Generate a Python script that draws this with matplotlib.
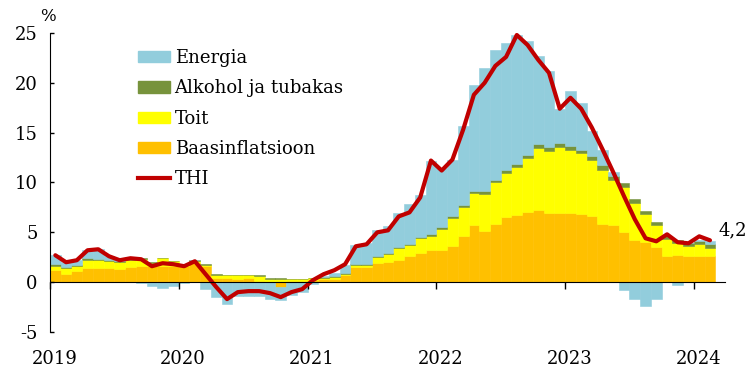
import numpy as np
import matplotlib
matplotlib.use("Agg")
import matplotlib.pyplot as plt
from matplotlib.patches import Patch
from matplotlib.lines import Line2D
import matplotlib.transforms as mtransforms

# Monthly data, Jan 2019 .. Feb 2024 (contributions, percentage points)
base = [1.2, 0.85, 1.15, 1.4, 1.4, 1.4, 1.35, 1.5, 1.6, 1.6, 1.6, 1.6,
        1.6, 1.9, 1.6, 0.45, 0.4, 0.35, 0.4, 0.15, 0.05, -0.5, 0.1, 0.15,
        0.2, 0.3, 0.35, 0.7, 1.55, 1.55, 1.9, 2.0, 2.2, 2.6, 2.9, 3.2,
        3.25, 3.6, 4.6, 5.7, 5.1, 5.8, 6.5, 6.7, 7.0, 7.2, 6.9, 6.9,
        6.9, 6.85, 6.6, 5.8, 5.7, 5.0, 4.2, 4.0, 3.5, 2.6, 2.7, 2.65,
        2.65, 2.6]
food = [0.4, 0.55, 0.5, 0.85, 0.8, 0.7, 0.7, 0.75, 0.7, 0.35, 0.8, 0.5,
        0.2, 0.25, 0.15, 0.3, 0.3, 0.35, 0.3, 0.5, 0.3, 0.3, 0.2, 0.15,
        0.2, 0.15, 0.15, 0.15, 0.15, 0.2, 0.6, 0.8, 1.2, 1.1, 1.5, 1.4,
        2.1, 2.8, 2.9, 3.2, 3.7, 4.2, 4.5, 4.9, 5.5, 6.3, 6.3, 6.7,
        6.4, 6.1, 5.7, 5.5, 4.6, 4.5, 3.7, 2.8, 2.2, 1.7, 1.2, 1.0,
        1.15, 0.85]
alcohol = [0.25, 0.15, 0.1, 0.15, 0.15, 0.1, 0.1, 0.1, 0.1, 0.05, 0.05, 0.05,
           0.05, 0.05, 0.05, 0.05, 0.05, 0.05, 0.05, 0.05, 0.1, 0.1, 0.05, 0.05,
           0.05, 0.1, 0.1, 0.1, 0.1, 0.1, 0.1, 0.1, 0.15, 0.15, 0.15, 0.2,
           0.2, 0.25, 0.25, 0.25, 0.3, 0.3, 0.3, 0.3, 0.3, 0.35, 0.35, 0.35,
           0.4, 0.35, 0.35, 0.45, 0.35, 0.4, 0.4, 0.35, 0.35, 0.3, 0.3, 0.25,
           0.3, 0.4]
energy = [0.85, 0.45, 0.45, 0.8, 0.95, 0.4, 0.05, 0.05, -0.1, -0.4, -0.55, -0.35,
          -0.1, 0.0, -0.7, -1.5, -2.2, -1.4, -1.35, -1.35, -1.7, -1.3, -1.3, -1.0,
          -0.2, 0.05, 0.3, 0.8, 1.9, 2.05, 2.6, 2.7, 3.35, 3.95, 4.15, 7.4,
          5.95, 5.65, 7.95, 10.65, 12.4, 13.0, 12.7, 12.9, 11.4, 8.85, 7.65, 3.45,
          5.5, 4.7, 2.55, 1.55, 0.45, -0.75, -1.7, -2.4, -1.7, 0.0, -0.25, 0.05,
          0.1, 0.3]
thi = [2.7, 2.0, 2.2, 3.2, 3.3, 2.6, 2.2, 2.4, 2.3, 1.6, 1.9, 1.8,
       1.6, 2.1, 0.8, -0.5, -1.7, -1.0, -0.9, -0.9, -1.1, -1.5, -1.0, -0.7,
       0.2, 0.8, 1.2, 1.8, 3.6, 3.8, 5.0, 5.2, 6.6, 7.0, 8.5, 12.2,
       11.2, 12.3, 15.3, 18.8, 20.0, 21.7, 22.6, 24.8, 23.8, 22.3, 21.0, 17.4,
       18.5, 17.4, 15.5, 13.3, 11.0, 8.6, 6.3, 4.4, 4.1, 4.8, 4.0, 3.9,
       4.6, 4.2]
years = ["2019", "2020", "2021", "2022", "2023", "2024"]
series_names = ["Baasinflatsioon", "Toit", "Alkohol ja tubakas", "Energia"]
series_colors = ["#FFC000", "#FFFF00", "#77933C", "#92CDDC"]
line_name = "THI"
line_color = "#C00000"
last_label = "4,2"

plt.rcParams['font.family'] = ['DejaVu Serif']
FS = 13

fig = plt.figure(figsize=(7.56, 3.75), dpi=100)
ax = fig.add_axes([0.0661, 0.1147, 0.8929, 0.7973])

n = len(thi)
x = np.arange(n) + 0.5
pos_b = np.zeros(n)
neg_b = np.zeros(n)
for vals, c in zip([base, food, alcohol, energy], series_colors):
    v = np.array(vals, dtype=float)
    bottom = np.where(v >= 0, pos_b, neg_b)
    ax.bar(x, v, bottom=bottom, width=1.0, color=c, edgecolor=c, linewidth=0.4, zorder=1)
    pos_b += np.clip(v, 0, None)
    neg_b += np.clip(v, None, 0)

ax.plot(x, thi, color=line_color, lw=3.0, solid_capstyle='round', solid_joinstyle='round', zorder=3)
ax.text(x[-1] + 0.75, 5.2, last_label, fontsize=FS, ha='left', va='center')

ax.set_xlim(0, 62.9)
ax.set_ylim(-5, 25)
ax.set_yticks(np.arange(-5, 26, 5))
ax.set_yticklabels([str(v) for v in range(-5, 26, 5)], fontsize=FS)
ax.tick_params(axis='y', direction='in', length=3, width=1, pad=9)

ax.spines['top'].set_visible(False)
ax.spines['right'].set_visible(False)
ax.spines['bottom'].set_position(('data', 0))
ax.spines['bottom'].set_zorder(4)
ax.spines['left'].set_zorder(4)

ticks = [12 * k for k in range(len(years))]
ax.set_xticks(ticks)
ax.tick_params(axis='x', direction='out', length=5, width=1, labelbottom=False)
trans = mtransforms.blended_transform_factory(ax.transData, ax.transAxes)
for t, lab in zip(ticks, years):
    ax.text(t + 0.4, -0.092, lab, transform=trans, ha='center', va='center', fontsize=FS)

fig.text(0.0635, 0.955, "%", fontsize=FS - 1, ha='center', va='center')

handles = [Patch(color=series_colors[3]), Patch(color=series_colors[2]),
           Patch(color=series_colors[1]), Patch(color=series_colors[0]),
           Line2D([0], [0], color=line_color, lw=3)]
labels = [series_names[3], series_names[2], series_names[1], series_names[0], line_name]
fig.legend(handles, labels, loc='upper left', bbox_to_anchor=(0.182, 0.869),
           frameon=False, fontsize=FS, handlelength=1.8, handleheight=0.6,
           handletextpad=0.25, labelspacing=0.68, borderpad=0, borderaxespad=0)

fig.savefig("out.png", dpi=100)
